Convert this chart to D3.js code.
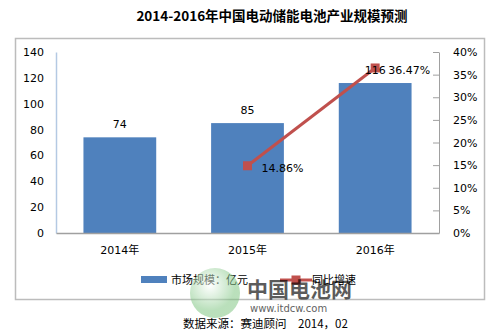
<!DOCTYPE html>
<html>
<head>
<meta charset="utf-8">
<script src="https://cdn.jsdelivr.net/npm/d3@7"></script>
<style>
  html, body { margin: 0; padding: 0; background: #fff; }
  svg { display: block; }
  text { font-family: "DejaVu Sans", "Noto Sans CJK SC", sans-serif; fill: #000; }
  .cjk { font-family: "Noto Sans CJK SC", sans-serif; }
</style>
</head>
<body>
<svg id="chart" width="499" height="334"></svg>
<script>
// Market size (100 million yuan) and year-on-year growth
const years = ["2014年", "2015年", "2016年"];
const marketSize = [74, 85, 116];
const growth = [null, 0.1486, 0.3647];
const growthLabels = [null, "14.86%", "36.47%"];
const leftTicks = [0, 20, 40, 60, 80, 100, 120, 140];
const rightTicks = [0, 0.05, 0.10, 0.15, 0.20, 0.25, 0.30, 0.35, 0.40];
const seriesNames = ["市场规模：亿元", "同比增速"];
const titleText = "2014-2016年中国电动储能电池产业规模预测";
const sourceText = "数据来源：赛迪顾问　2014，02";

const svg = d3.select("#chart");
const barColor = "#4f81bd";
const lineColor = "#c0504d";

const plot = { left: 56, right: 439, top: 52, bottom: 233 };

const x = d3.scaleBand().domain(years).range([plot.left, plot.right]).paddingInner(0.43).paddingOuter(0.215);
const yL = d3.scaleLinear().domain([0, 140]).range([plot.bottom, plot.top]);
const yR = d3.scaleLinear().domain([0, 0.4]).range([plot.bottom, plot.top]);

// title
svg.append("text").attr("class", "cjk")
  .attr("x", 272).attr("y", 21).attr("text-anchor", "middle")
  .style("font-size", "13.5px").style("font-weight", "bold")
  .text(titleText);

// chart frame
svg.append("rect").attr("x", 15.5).attr("y", 38.5).attr("width", 469).attr("height", 261)
  .attr("fill", "none").attr("stroke", "#bcbcbc").attr("stroke-width", 1.5);

// left axis
const gL = svg.append("g").attr("transform", `translate(${plot.left},0)`)
  .call(d3.axisLeft(yL).tickValues(leftTicks).tickSize(0).tickPadding(12));
gL.select(".domain").attr("stroke", "#b4c9e3").attr("stroke-width", 1.5);
gL.selectAll("text").style("font-size", "11px").attr("fill", "#000")
  .style("font-family", "DejaVu Sans");

// right axis
const gR = svg.append("g").attr("transform", `translate(${plot.right},0)`)
  .call(d3.axisRight(yR).tickValues(rightTicks).tickFormat(d3.format(".0%")).tickSizeInner(-6).tickSizeOuter(0).tickPadding(14));
gR.select(".domain").attr("stroke", "#a0a0a0").attr("stroke-width", 1);
gR.selectAll(".tick line").attr("stroke", "#a0a0a0");
gR.selectAll("text").style("font-size", "11px").attr("fill", "#000")
  .style("font-family", "DejaVu Sans").attr("text-anchor", "start");

// bars
svg.append("g").selectAll("rect").data(marketSize).join("rect")
  .attr("x", (d, i) => x(years[i]))
  .attr("y", d => yL(d))
  .attr("width", x.bandwidth())
  .attr("height", d => yL(0) - yL(d))
  .attr("fill", barColor);

// bottom axis
const gB = svg.append("g").attr("transform", `translate(0,${plot.bottom})`)
  .call(d3.axisBottom(x).tickSize(0).tickPadding(13));
gB.select(".domain").attr("stroke", "#a0a0a0").attr("stroke-width", 1.5);
gB.selectAll("text").style("font-size", "11px").attr("fill", "#000")
  .style("font-family", "DejaVu Sans, Noto Sans CJK SC");

// growth line with square markers
const pts = growth.map((g, i) => ({ g, i })).filter(p => p.g !== null);
const cx = i => x(years[i]) + x.bandwidth() / 2;
svg.append("path").datum(pts)
  .attr("d", d3.line().x(p => cx(p.i)).y(p => yR(p.g)))
  .attr("fill", "none").attr("stroke", lineColor).attr("stroke-width", 3);
svg.append("g").selectAll("rect").data(pts).join("rect")
  .attr("x", p => cx(p.i) - 4.5).attr("y", p => yR(p.g) - 4.5)
  .attr("width", 9).attr("height", 9).attr("fill", lineColor);

// bar value labels (drawn above the line layer)
svg.append("g").selectAll("text").data(marketSize).join("text")
  .attr("x", (d, i) => x(years[i]) + x.bandwidth() / 2)
  .attr("y", d => yL(d) - 9)
  .attr("text-anchor", "middle")
  .style("font-size", "11px")
  .text(d => d);

// growth labels
svg.append("g").selectAll("text").data(pts).join("text")
  .attr("x", p => cx(p.i) + (p.i === 1 ? 14 : 13))
  .attr("y", p => yR(p.g) + 6)
  .style("font-size", "11px")
  .text(p => growthLabels[p.i]);

// legend
const lg = svg.append("g");
lg.append("rect").attr("x", 141).attr("y", 276).attr("width", 26).attr("height", 7).attr("fill", barColor);
lg.append("text").attr("class", "cjk").attr("x", 171).attr("y", 284).style("font-size", "11px").text(seriesNames[0]);
lg.append("line").attr("x1", 280).attr("x2", 312).attr("y1", 280).attr("y2", 280)
  .attr("stroke", lineColor).attr("stroke-width", 3);
lg.append("rect").attr("x", 291.5).attr("y", 275.5).attr("width", 9).attr("height", 9).attr("fill", lineColor);
lg.append("text").attr("class", "cjk").attr("x", 312).attr("y", 284).style("font-size", "11px").text(seriesNames[1]);

// site watermark
const wm = svg.append("g").attr("opacity", 0.75);
const grad = svg.append("defs").append("radialGradient").attr("id", "globe").attr("cx", "40%").attr("cy", "35%");
grad.append("stop").attr("offset", "0%").attr("stop-color", "#ffffff");
grad.append("stop").attr("offset", "100%").attr("stop-color", "#7cc47f");
wm.append("circle").attr("cx", 215).attr("cy", 293).attr("r", 25).attr("fill", "url(#globe)").attr("opacity", 0.7);
wm.append("text").attr("class", "cjk").attr("x", 247).attr("y", 297)
  .style("font-size", "21px").style("font-weight", "bold").attr("fill", "#4fae3f").attr("opacity", 0.85)
  .text("中国电池网");
wm.append("text").attr("x", 250).attr("y", 312)
  .style("font-size", "10px").attr("fill", "#6cbf5e").attr("opacity", 0.85)
  .text("www.itdcw.com");

// source note
svg.append("text").attr("class", "cjk").attr("x", 183).attr("y", 328)
  .style("font-size", "11.5px").text(sourceText);
</script>
</body>
</html>
